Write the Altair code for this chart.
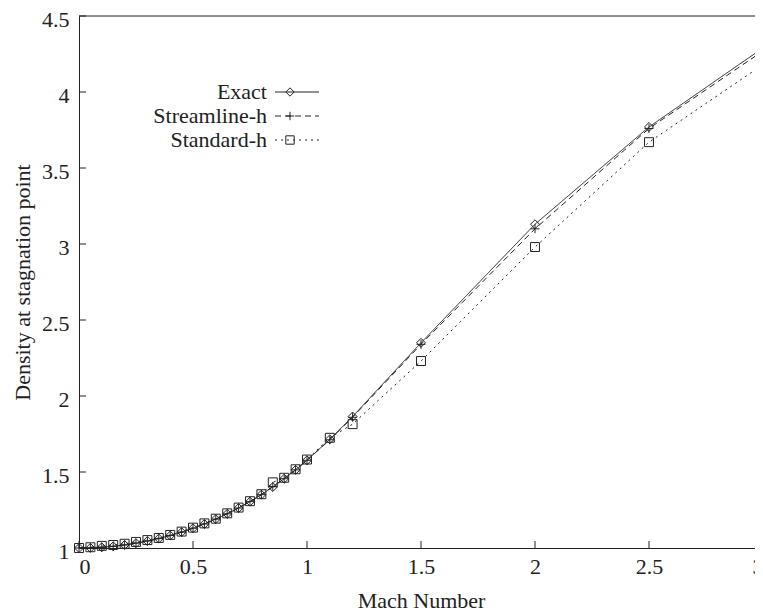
import altair as alt
import pandas as pd

# ---- data ----
mach = [0.0, 0.05, 0.1, 0.15, 0.2, 0.25, 0.3, 0.35, 0.4, 0.45, 0.5,
        0.55, 0.6, 0.65, 0.7, 0.75, 0.8, 0.85, 0.9, 0.95, 1.0,
        1.1, 1.2, 1.5, 2.0, 2.5, 3.0]
exact = [1.0, 1.001, 1.005, 1.011, 1.020, 1.032, 1.046, 1.062, 1.082, 1.104, 1.130,
         1.158, 1.190, 1.225, 1.263, 1.305, 1.351, 1.401, 1.456, 1.514, 1.577,
         1.715, 1.865, 2.35, 3.13, 3.77, 4.29]
streamline = [1.0, 1.001, 1.005, 1.011, 1.020, 1.032, 1.046, 1.062, 1.082, 1.104, 1.130,
              1.158, 1.190, 1.225, 1.263, 1.305, 1.351, 1.405, 1.456, 1.514, 1.577,
              1.712, 1.860, 2.34, 3.10, 3.76, 4.27]
standard = [1.0, 1.005, 1.014, 1.020, 1.028, 1.040, 1.052, 1.066, 1.086, 1.108, 1.134,
            1.162, 1.193, 1.228, 1.266, 1.308, 1.354, 1.432, 1.462, 1.518, 1.582,
            1.725, 1.815, 2.23, 2.98, 3.67, 4.18]
series_names = ["Exact", "Streamline-h", "Standard-h"]
x_ticks = [0, 0.5, 1, 1.5, 2, 2.5, 3]
y_ticks = [1, 1.5, 2, 2.5, 3, 3.5, 4, 4.5]

rows = []
for name, vals in zip(series_names, [exact, streamline, standard]):
    for m, v in zip(mach, vals):
        rows.append({"mach": m, "rho": v, "series": name})
df = pd.DataFrame(rows)

FONT = "Liberation Serif"
INK = "#222222"
W, H = 684, 532
FS = 22

dash_scale = alt.Scale(domain=series_names, range=[[1, 0], [6, 4], [2, 4]])
plus_path = "M-1,0L1,0M0,-1L0,1"
shape_scale = alt.Scale(domain=series_names, range=["diamond", plus_path, "square"])

xs = alt.Scale(domain=[0, 3], nice=False)
ys = alt.Scale(domain=[1, 4.5], nice=False, zero=False)

x_enc = alt.X("mach:Q", scale=xs, axis=alt.Axis(
    values=x_ticks, format="~g", title="Mach Number", grid=False,
    tickSize=0, labelPadding=8, titleBaseline="middle", titleY=52,
    labelFont=FONT, labelFontSize=FS, labelColor=INK,
    titleFont=FONT, titleFontSize=FS, titleColor=INK, titleFontWeight="normal",
    domainColor=INK, domainWidth=1))
y_enc = alt.Y("rho:Q", scale=ys, axis=alt.Axis(
    values=y_ticks, format="~g", title="Density at stagnation point", grid=False,
    tickSize=0, labelPadding=10, labelOffset=3, titleAngle=270, titleAlign="center",
    titleBaseline="middle", titleX=-57, titleY=H / 2,
    labelFont=FONT, labelFontSize=FS, labelColor=INK,
    titleFont=FONT, titleFontSize=FS, titleColor=INK, titleFontWeight="normal",
    domainColor=INK, domainWidth=1))

lines = alt.Chart(df).mark_line(color=INK, strokeWidth=1).encode(
    x=x_enc, y=y_enc,
    strokeDash=alt.StrokeDash("series:N", scale=dash_scale, legend=None),
    detail="series:N",
)
points = alt.Chart(df).mark_point(color=INK, filled=False, strokeWidth=1, size=80, opacity=1).encode(
    x=alt.X("mach:Q", scale=xs), y=alt.Y("rho:Q", scale=ys),
    shape=alt.Shape("series:N", scale=shape_scale, legend=None),
)

# inward tick marks
xt = pd.DataFrame({"mach": x_ticks})
yt = pd.DataFrame({"rho": y_ticks})
x_tick_marks = alt.Chart(xt).mark_rule(color=INK, strokeWidth=1).encode(
    x=alt.X("mach:Q", scale=xs), y=alt.value(H), y2=alt.value(H - 7))
y_tick_marks = alt.Chart(yt).mark_rule(color=INK, strokeWidth=1).encode(
    y=alt.Y("rho:Q", scale=ys), x=alt.value(0), x2=alt.value(7))
top_border = alt.Chart(pd.DataFrame({"rho": [4.5]})).mark_rule(color=INK, strokeWidth=1).encode(
    y=alt.Y("rho:Q", scale=ys), x=alt.value(0), x2=alt.value(W + 5))

# legend (gnuplot style: label on the left, sample on the right)
legend_layers = []
text_right = 188
line_x1, line_x2, marker_x = 196, 240, 211
row_y = [76, 100, 124]
for i, name in enumerate(series_names):
    ld = pd.DataFrame({"series": [name]})
    legend_layers.append(alt.Chart(ld).mark_text(
        align="right", baseline="middle", font=FONT, fontSize=FS, color=INK).encode(
        text="series:N", x=alt.value(text_right), y=alt.value(row_y[i])))
    legend_layers.append(alt.Chart(ld).mark_rule(color=INK, strokeWidth=1).encode(
        x=alt.value(line_x1), x2=alt.value(line_x2), y=alt.value(row_y[i]),
        strokeDash=alt.StrokeDash("series:N", scale=dash_scale, legend=None)))
    legend_layers.append(alt.Chart(ld).mark_point(color=INK, filled=False, strokeWidth=1, size=70, opacity=1).encode(
        x=alt.value(marker_x), y=alt.value(row_y[i]),
        shape=alt.Shape("series:N", scale=shape_scale, legend=None)))

chart = alt.layer(lines, points, x_tick_marks, y_tick_marks, top_border, *legend_layers).properties(
    width=W, height=H,
    background="white",
    autosize=alt.AutoSizeParams(type="none"),
    padding={"left": 71, "top": 8, "right": -8, "bottom": 64},
).configure_view(stroke=None)

chart.save("out.html", embed_options={"renderer": "svg", "actions": False})
